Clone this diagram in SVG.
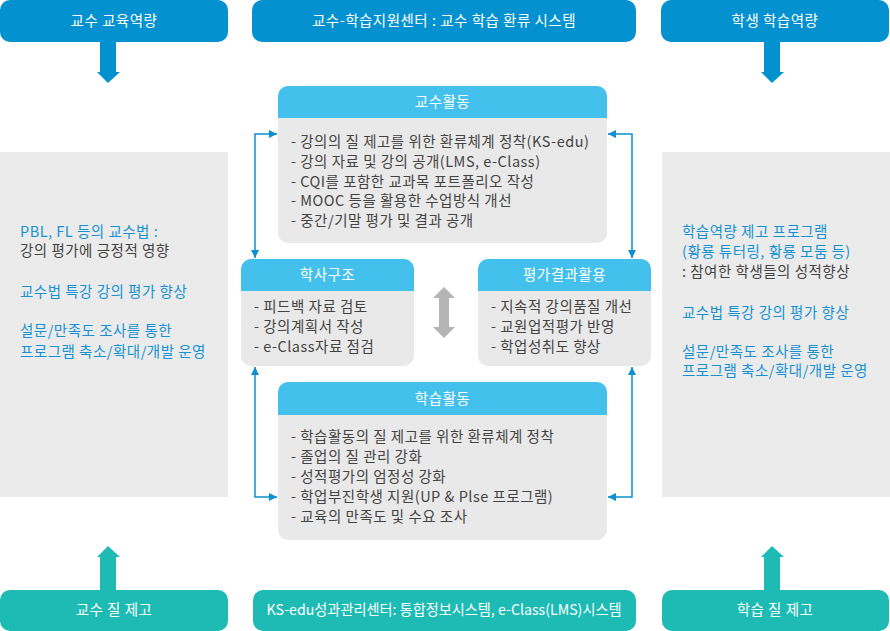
<svg xmlns="http://www.w3.org/2000/svg" width="890" height="631" viewBox="0 0 890 631">
<defs>
<style>
text{font-family:"Noto Sans CJK KR","Noto Sans",sans-serif;font-size:14.5px;letter-spacing:0.5px}
.w{fill:#ffffff;text-anchor:middle}
.g{fill:#444444}
.b{fill:#1592d3}
.top{fill:#0392cf}
.bot{fill:#1dbbb4}
.panel{fill:#ebebeb}
.body{fill:#e9e9e9}
.hd{fill:#43c1ec}
.con{fill:none;stroke:#0a8fd0;stroke-width:1.5}
</style>
<marker id="ah" viewBox="0 0 10 10" refX="10" refY="5" markerWidth="8" markerHeight="8" markerUnits="userSpaceOnUse" orient="auto-start-reverse">
<path d="M0,0 L10,5 L0,10 z" fill="#0a8fd0"/>
</marker>
</defs>

<g id="top-left"><rect class="top" x="0" y="0" width="228" height="42" rx="10"/><text class="w" x="114" y="26">교수 교육역량</text></g>
<g id="top-center"><rect class="top" x="252" y="0" width="384" height="42" rx="10"/><text class="w" x="444" y="26">교수-학습지원센터 : 교수 학습 환류 시스템</text></g>
<g id="top-right"><rect class="top" x="661" y="0" width="228" height="42" rx="10"/><text class="w" x="775" y="26">학생 학습역량</text></g>

<g id="arrows-big">
<path class="top" d="M100,42 H116 V72 H120 L108,83 L97,72 H100 Z"/>
<path class="top" d="M764,42 H780 V72 H784 L772,83 L761,72 H764 Z"/>
<path class="bot" d="M100,590 H116 V557 H120 L108,546 L97,557 H100 Z"/>
<path class="bot" d="M764,590 H780 V557 H784 L772,546 L761,557 H764 Z"/>
<path fill="#b5b5b5" d="M444,287 L455,298 H449 V327 H455 L444,338 L433,327 H439 V298 H433 Z"/>
</g>

<g id="panel-left"><rect class="panel" x="0" y="152" width="228" height="345"/>
<text class="b" x="20" y="237">PBL, FL 등의 교수법 :</text>
<text class="g" x="20" y="256">강의 평가에 긍정적 영향</text>
<text class="b" x="20" y="297">교수법 특강 강의 평가 향상</text>
<text class="b" x="20" y="336">설문/만족도 조사를 통한</text>
<text class="b" x="20" y="357">프로그램 축소/확대/개발 운영</text>
</g>

<g id="panel-right"><rect class="panel" x="662" y="152" width="228" height="345"/>
<text class="b" x="682" y="237">학습역량 제고 프로그램</text>
<text class="b" x="682" y="257">(황룡 튜터링, 황룡 모둠 등)</text>
<text class="g" x="682" y="277">: 참여한 학생들의 성적향상</text>
<text class="b" x="682" y="318">교수법 특강 강의 평가 향상</text>
<text class="b" x="682" y="357">설문/만족도 조사를 통한</text>
<text class="b" x="682" y="376">프로그램 축소/확대/개발 운영</text>
</g>

<g id="node-teaching">
<rect class="body" x="278" y="86" width="329" height="157" rx="10"/>
<path class="hd" d="M278,118 V96 A10,10 0 0 1 288,86 H597 A10,10 0 0 1 607,96 V118 Z"/>
<text class="w" x="442.5" y="107">교수활동</text>
<text class="g" x="291" y="147">- 강의의 질 제고를 위한 환류체계 정착(KS-edu)</text>
<text class="g" x="291" y="167">- 강의 자료 및 강의 공개(LMS, e-Class)</text>
<text class="g" x="291" y="187">- CQI를 포함한 교과목 포트폴리오 작성</text>
<text class="g" x="291" y="206">- MOOC 등을 활용한 수업방식 개선</text>
<text class="g" x="291" y="226">- 중간/기말 평가 및 결과 공개</text>
</g>

<g id="node-structure">
<rect class="body" x="241" y="259" width="173" height="107" rx="10"/>
<path class="hd" d="M241,291 V269 A10,10 0 0 1 251,259 H404 A10,10 0 0 1 414,269 V291 Z"/>
<text class="w" x="327.5" y="280">학사구조</text>
<text class="g" x="254" y="312">- 피드백 자료 검토</text>
<text class="g" x="254" y="332">- 강의계획서 작성</text>
<text class="g" x="254" y="352">- e-Class자료 점검</text>
</g>

<g id="node-evaluation">
<rect class="body" x="478" y="259" width="173" height="107" rx="10"/>
<path class="hd" d="M478,291 V269 A10,10 0 0 1 488,259 H641 A10,10 0 0 1 651,269 V291 Z"/>
<text class="w" x="564.5" y="280">평가결과활용</text>
<text class="g" x="491" y="312">- 지속적 강의품질 개선</text>
<text class="g" x="491" y="332">- 교원업적평가 반영</text>
<text class="g" x="491" y="352">- 학업성취도 향상</text>
</g>

<g id="node-learning">
<rect class="body" x="278" y="382" width="329" height="158" rx="10"/>
<path class="hd" d="M278,415 V392 A10,10 0 0 1 288,382 H597 A10,10 0 0 1 607,392 V415 Z"/>
<text class="w" x="442.5" y="404">학습활동</text>
<text class="g" x="291" y="442">- 학습활동의 질 제고를 위한 환류체계 정착</text>
<text class="g" x="291" y="462">- 졸업의 질 관리 강화</text>
<text class="g" x="291" y="482">- 성적평가의 엄정성 강화</text>
<text class="g" x="291" y="502">- 학업부진학생 지원(UP &amp; Plse 프로그램)</text>
<text class="g" x="291" y="522">- 교육의 만족도 및 수요 조사</text>
</g>

<g id="node-bottom-left"><rect class="bot" x="0" y="590" width="228" height="41" rx="10"/><text class="w" x="114" y="615">교수 질 제고</text></g>
<g id="node-bottom-center"><rect class="bot" x="253" y="590" width="383" height="41" rx="10"/><text class="w" x="444" y="615" style="letter-spacing:0" textLength="355" lengthAdjust="spacingAndGlyphs">KS-edu성과관리센터: 통합정보시스템, e-Class(LMS)시스템</text></g>
<g id="node-bottom-right"><rect class="bot" x="662" y="590" width="227" height="41" rx="10"/><text class="w" x="775" y="615">학습 질 제고</text></g>

<g id="connectors">
<path class="con" d="M255,258 V134 H277" marker-start="url(#ah)" marker-end="url(#ah)"/>
<path class="con" d="M632,258 V134 H608" marker-start="url(#ah)" marker-end="url(#ah)"/>
<path class="con" d="M255,367 V497 H277" marker-start="url(#ah)" marker-end="url(#ah)"/>
<path class="con" d="M632,367 V497 H608" marker-start="url(#ah)" marker-end="url(#ah)"/>
</g>
</svg>
